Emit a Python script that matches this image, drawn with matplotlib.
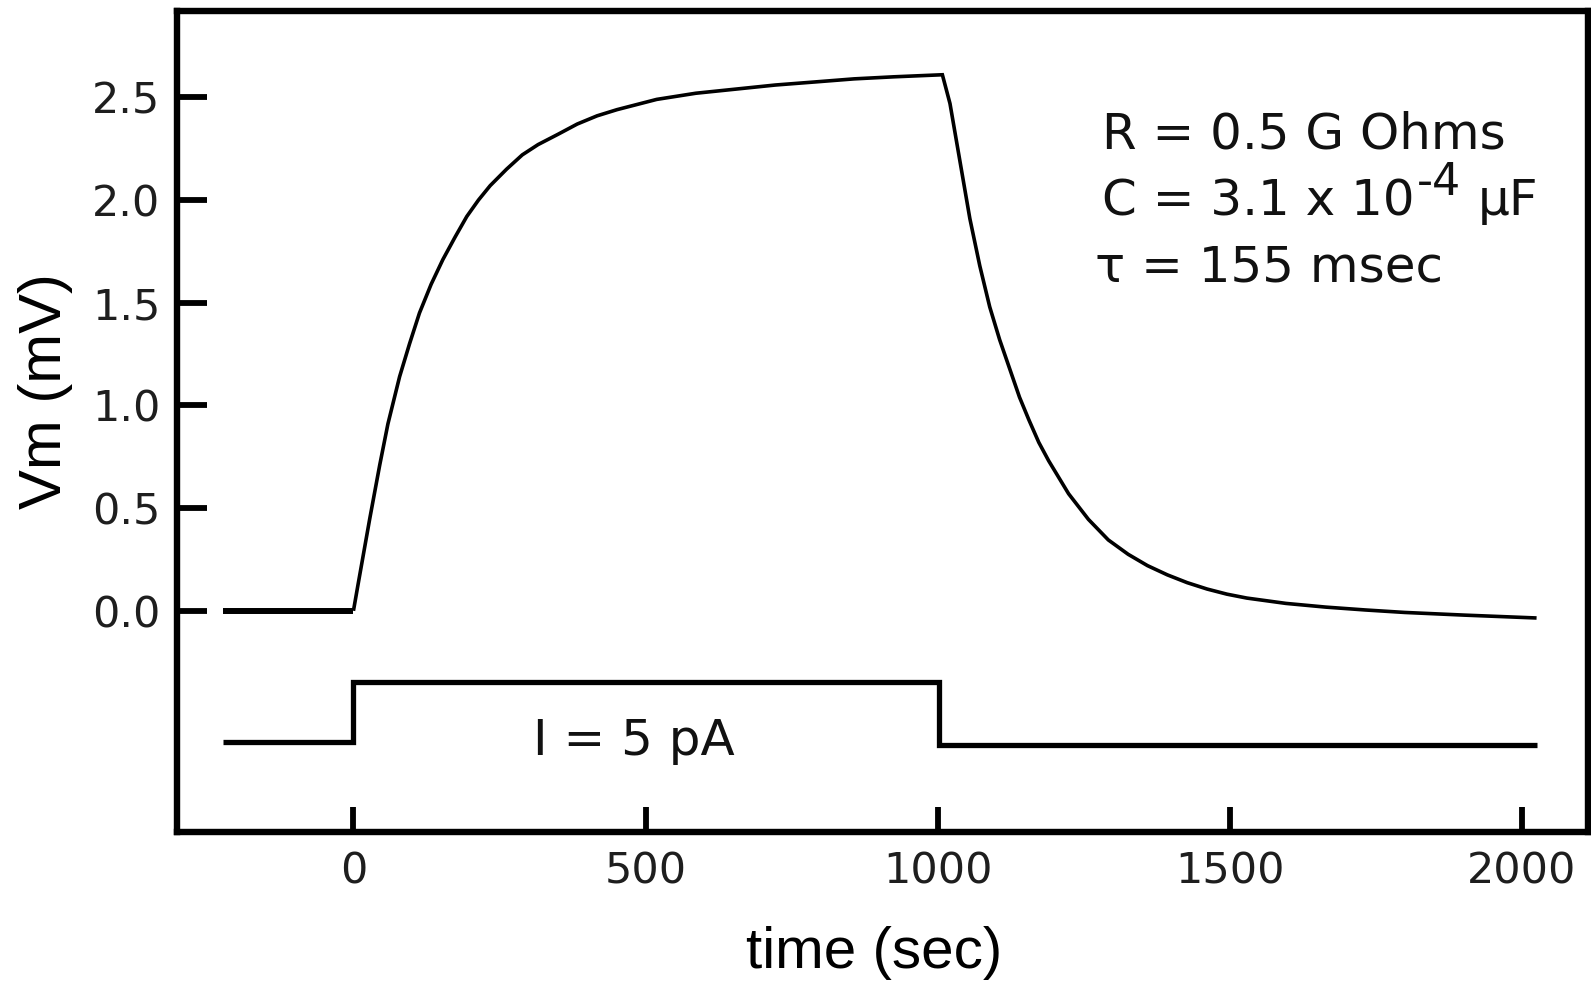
import matplotlib
matplotlib.use("Agg")
import matplotlib.pyplot as plt

# Membrane potential response to the current step (time, mV)
v_time = [-224, 0, 8, 28, 45, 59, 79, 96, 113, 133, 153, 174, 194, 214, 234,
          262, 289, 316, 350, 383, 417, 451, 519, 586, 654, 722, 790, 857, 925,
          1008, 1021, 1038, 1055, 1072, 1089, 1106, 1123, 1140, 1156, 1173,
          1190, 1224, 1258, 1292, 1326, 1359, 1393, 1427, 1461, 1495, 1529,
          1596, 1664, 1732, 1799, 1901, 2025]
v_mv = [0.0, 0.0, 0.13, 0.45, 0.71, 0.91, 1.14, 1.30, 1.45, 1.59, 1.71, 1.82,
        1.92, 2.00, 2.07, 2.15, 2.22, 2.27, 2.32, 2.37, 2.41, 2.44, 2.49, 2.52,
        2.54, 2.56, 2.575, 2.59, 2.60,
        2.61, 2.47, 2.19, 1.91, 1.68, 1.48, 1.32, 1.18, 1.04, 0.93, 0.82,
        0.73, 0.57, 0.445, 0.345, 0.275, 0.22, 0.175, 0.137, 0.106, 0.081,
        0.062, 0.036, 0.018, 0.004, -0.008, -0.021, -0.035]

# Injected current, drawn as an offset step trace below the voltage
i_time = [-224, 0, 1002, 2025]
i_level = [-0.64, -0.345, -0.655, -0.655]

x_ticks = [0, 500, 1000, 1500, 2000]
y_ticks = [0.0, 0.5, 1.0, 1.5, 2.0, 2.5]

r_text = "R = 0.5 G Ohms"
c_text = "C = 3.1 x 10"
c_exp = "-4"
c_unit = "\u03bcF"
tau_text = "\u03c4 = 155 msec"
i_text = "I = 5 pA"

plt.rcParams['font.family'] = ['DejaVu Sans']

fig = plt.figure(figsize=(15.91, 9.82), dpi=100)
ax = fig.add_axes([0.11125, 0.15255, 0.88686, 0.83574])

# voltage trace; the pre-step baseline is drawn a bit heavier
ax.plot(v_time[:2], v_mv[:2], color='black', lw=4.3, solid_capstyle='butt')
ax.plot(v_time[1:], v_mv[1:], color='black', lw=2.6, solid_joinstyle='miter',
        solid_capstyle='butt')

# current step
ax.plot(i_time, i_level, color='black', lw=3.8, drawstyle='steps-post',
        solid_joinstyle='miter', solid_capstyle='butt')

ax.set_xlim(-302, 2113)
ax.set_ylim(-1.078, 2.918)

ax.set_xticks(x_ticks)
ax.set_yticks(y_ticks)
ax.set_yticklabels(["{:.1f}".format(v) for v in y_ticks])
ax.tick_params(axis='both', direction='in', width=4.2, color='black',
               labelsize=31, labelcolor='#1e1e1e')
ax.tick_params(axis='y', length=21.5, pad=12)
ax.tick_params(axis='x', length=18, pad=13)

for spine in ax.spines.values():
    spine.set_linewidth(4.6)

ax.set_xlabel("time (sec)", family='Liberation Sans', fontsize=42)
ax.set_ylabel("Vm (mV)", family='Liberation Sans', fontsize=43)
ax.xaxis.set_label_coords(0.494, -0.114)
ax.yaxis.set_label_coords(-0.0735, 0.537)

# circuit parameters
txt_kw = dict(fontsize=36, color='#111111', va='baseline', ha='left')
ax.text(1281, 2.253, r_text, **txt_kw)
c_main = ax.text(1281, 1.927, c_text, **txt_kw)
c_sup = ax.annotate(c_exp, xy=(1, 0), xycoords=c_main, xytext=(2, 15),
                    textcoords='offset points', fontsize=32, color='#111111',
                    va='bottom', ha='left')
ax.annotate(c_unit, xy=(1, 0), xycoords=c_sup, xytext=(12, -15),
            textcoords='offset points', fontsize=36, color='#111111',
            va='bottom', ha='left')
ax.text(1269, 1.602, tau_text, **txt_kw)

ax.text(480, -0.702, i_text, fontsize=36, color='#111111',
        va='baseline', ha='center')

fig.savefig("out.png", dpi=100)
